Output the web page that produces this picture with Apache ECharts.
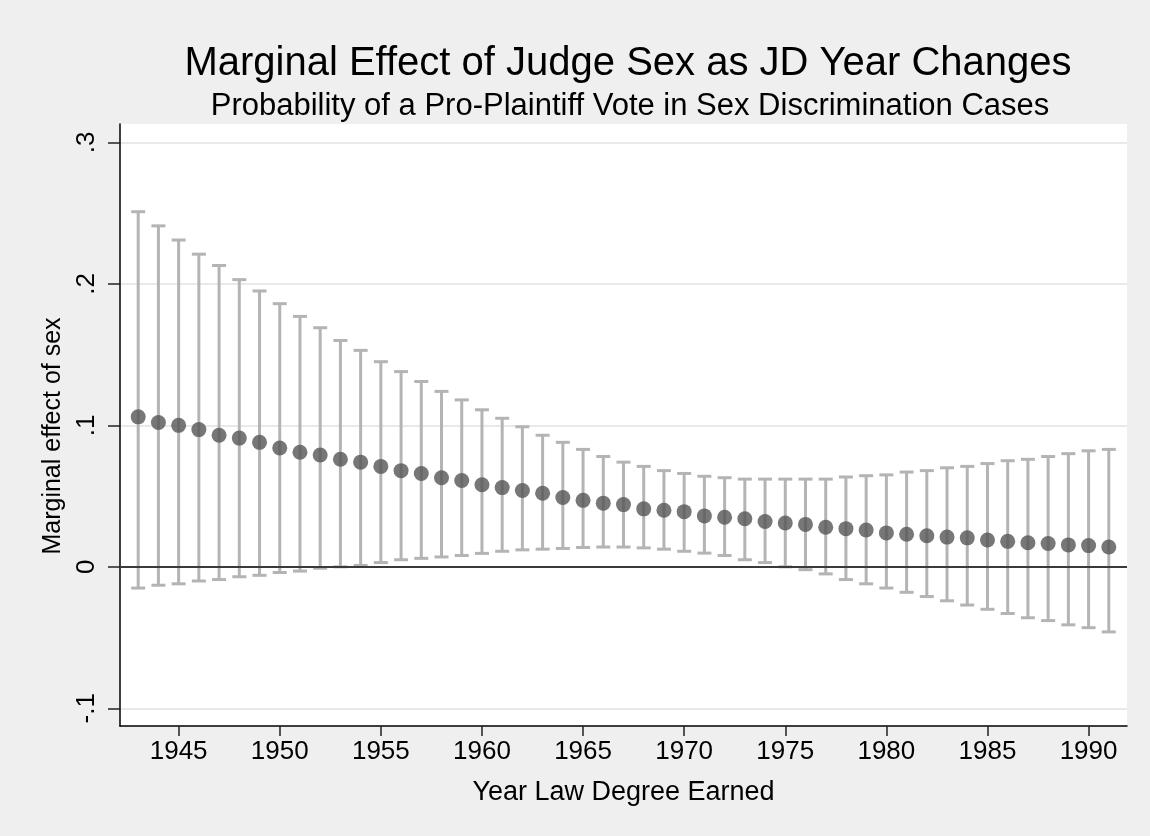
<!DOCTYPE html>
<html>
<head>
<meta charset="utf-8">
<script src="https://cdn.jsdelivr.net/npm/echarts@6/dist/echarts.min.js"></script>
<style>
html,body{margin:0;padding:0;background:#efefef;}
#chart{width:1150px;height:836px;}
</style>
</head>
<body>
<div id="chart"></div>
<script>
const years = [1943,1944,1945,1946,1947,1948,1949,1950,1951,1952,1953,1954,1955,1956,1957,1958,1959,1960,1961,1962,1963,1964,1965,1966,1967,1968,1969,1970,1971,1972,1973,1974,1975,1976,1977,1978,1979,1980,1981,1982,1983,1984,1985,1986,1987,1988,1989,1990,1991];
const effect = [0.106,0.102,0.100,0.097,0.093,0.091,0.088,0.084,0.081,0.079,0.076,0.074,0.071,0.068,0.066,0.063,0.061,0.058,0.056,0.054,0.052,0.049,0.047,0.045,0.044,0.041,0.040,0.039,0.036,0.035,0.034,0.032,0.031,0.030,0.028,0.027,0.026,0.024,0.023,0.022,0.021,0.0205,0.019,0.018,0.017,0.0165,0.0155,0.015,0.014];
const upper = [0.251,0.241,0.231,0.221,0.213,0.203,0.195,0.186,0.177,0.169,0.160,0.153,0.145,0.138,0.131,0.124,0.118,0.111,0.105,0.099,0.093,0.088,0.083,0.078,0.074,0.071,0.068,0.066,0.064,0.063,0.062,0.062,0.062,0.062,0.062,0.0635,0.0644,0.065,0.067,0.068,0.070,0.071,0.073,0.075,0.076,0.078,0.080,0.082,0.083];
const lower = [-0.015,-0.013,-0.012,-0.010,-0.009,-0.007,-0.006,-0.004,-0.003,-0.001,0.000,0.001,0.003,0.005,0.006,0.007,0.008,0.0095,0.011,0.012,0.0125,0.013,0.0137,0.014,0.014,0.0134,0.0125,0.011,0.0097,0.008,0.005,0.003,0.000,-0.002,-0.005,-0.009,-0.012,-0.015,-0.018,-0.021,-0.024,-0.027,-0.030,-0.033,-0.036,-0.038,-0.041,-0.043,-0.046];
const xTicks = [1945,1950,1955,1960,1965,1970,1975,1980,1985,1990];
const yTicks = [-0.1,0,0.1,0.2,0.3];
const yTickLabels = ['-.1','0','.1','.2','.3'];
const titleText = 'Marginal Effect of Judge Sex as JD Year Changes';
const subtitleText = 'Probability of a Pro-Plaintiff Vote in Sex Discrimination Cases';
const xName = 'Year Law Degree Earned';
const yName = 'Marginal effect of sex';

const FONT = 'Liberation Sans, Arial, Helvetica, sans-serif';
const chart = echarts.init(document.getElementById('chart'), null, {renderer:'canvas'});

const ciData = years.map((y,i)=>[y, lower[i], upper[i]]);
const ptData = years.map((y,i)=>[y, effect[i]]);

chart.setOption({
  backgroundColor:'#efefef',
  animation:false,
  title:[
    {text:titleText, left:623, top:39, textAlign:'center',
     textStyle:{fontFamily:FONT, fontSize:40, fontWeight:'normal', color:'#000'}},
    {text:subtitleText, left:625, top:86, textAlign:'center',
     textStyle:{fontFamily:FONT, fontSize:31, fontWeight:'normal', color:'#000'}}
  ],
  grid:{left:120, right:23, top:124, bottom:110, show:true, backgroundColor:'#ffffff', borderWidth:0, containLabel:false},
  xAxis:{
    type:'value', min:1942.1, max:1991.9,
    name:xName, nameLocation:'middle', nameGap:53,
    nameTextStyle:{fontFamily:FONT, fontSize:27, color:'#000'},
    axisLine:{show:true, onZero:false, lineStyle:{color:'#000', width:1.5}},
    axisTick:{show:true, length:10, customValues:xTicks, lineStyle:{color:'#222', width:1.5}},
    axisLabel:{customValues:xTicks, margin:13, fontFamily:FONT, fontSize:26, color:'#000',
      formatter:function(v){ return String(Math.round(v)); }},
    splitLine:{show:false}
  },
  yAxis:{
    type:'value', min:-0.1125, max:0.313,
    name:yName, nameLocation:'middle', nameGap:50, nameRotate:90,
    nameTextStyle:{fontFamily:FONT, fontSize:25, color:'#000', padding:[0,22,0,0]},
    axisLine:{show:true, onZero:false, lineStyle:{color:'#000', width:1.5}},
    axisTick:{show:true, length:12, customValues:yTicks, lineStyle:{color:'#222', width:1.5}},
    axisLabel:{customValues:yTicks, rotate:90, margin:20, fontFamily:FONT, fontSize:26, color:'#000',
      formatter:function(v){ const i = yTicks.findIndex(t=>Math.abs(t-v)<1e-9); return i>=0 ? yTickLabels[i] : ''; }},
    splitLine:{show:true, lineStyle:{color:'#e9e9e9', width:2}}
  },
  series:[
    {type:'line', data:[], z:1, silent:true,
     markLine:{silent:true, symbol:['none','none'], label:{show:false},
       lineStyle:{color:'#3a3a3a', width:2.2, type:'solid'},
       data:[{yAxis:0}]}},
    {type:'custom', z:3, silent:true, data:ciData,
     encode:{x:0, y:[1,2]},
     renderItem:function(params, api){
       const x = api.value(0), lo = api.value(1), hi = api.value(2);
       const pLo = api.coord([x, lo]), pHi = api.coord([x, hi]);
       const hw = 7;
       const st = {stroke:'#b4b4b4', lineWidth:3, fill:null};
       return {type:'group', children:[
         {type:'line', shape:{x1:pHi[0], y1:pHi[1], x2:pLo[0], y2:pLo[1]}, style:st},
         {type:'line', shape:{x1:pHi[0]-hw, y1:pHi[1], x2:pHi[0]+hw, y2:pHi[1]}, style:st},
         {type:'line', shape:{x1:pLo[0]-hw, y1:pLo[1], x2:pLo[0]+hw, y2:pLo[1]}, style:st}
       ]};
     }},
    {type:'scatter', z:4, silent:true, data:ptData, symbol:'circle', symbolSize:15,
     itemStyle:{color:'#555555'}}
  ]
});
</script>
</body>
</html>
